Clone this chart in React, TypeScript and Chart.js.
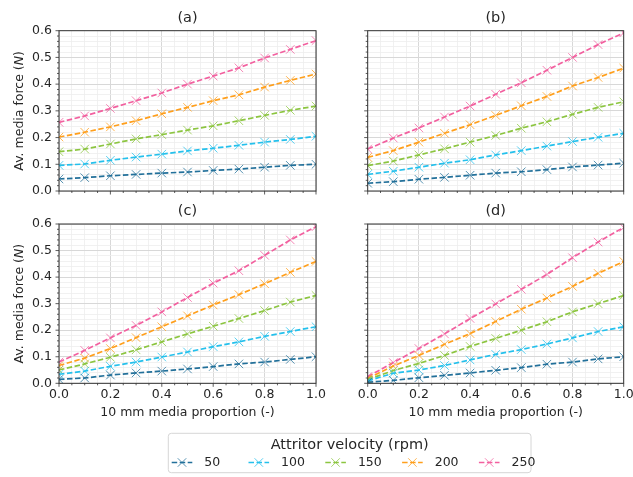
import React, { useEffect, useRef } from 'react';
import { Chart, registerables } from 'chart.js';
Chart.register(...registerables);

const FONT = '"DejaVu Sans", sans-serif';
const TEXT = '#262626';
const W = 633;
const H = 477;

const proportion = [0, 0.1, 0.2, 0.3, 0.4, 0.5, 0.6, 0.7, 0.8, 0.9, 1.0];
const velocities = ['50', '100', '150', '200', '250'];
const seriesColors = ['#22709a', '#24c0ec', '#8cc540', '#ff9f1c', '#f2609f'];

const xTickLabels = ['0.0', '0.2', '0.4', '0.6', '0.8', '1.0'];
const yTickLabels = ['0.0', '0.1', '0.2', '0.3', '0.4', '0.5', '0.6'];
const xMinorPerMajor = 4; // minor every 0.05
const yMinorPerMajor = 5; // minor every 0.02

const xTitle = '10 mm media proportion (-)';
const yTitleParts = ['Av. media force (', 'N', ')'];
const legendTitle = 'Attritor velocity (rpm)';

// Panel (a)
const a50 = [0.045, 0.050, 0.057, 0.062, 0.067, 0.071, 0.077, 0.082, 0.089, 0.096, 0.100];
const a100 = [0.096, 0.101, 0.115, 0.127, 0.138, 0.150, 0.160, 0.171, 0.183, 0.193, 0.205];
const a150 = [0.147, 0.157, 0.176, 0.195, 0.211, 0.228, 0.244, 0.263, 0.283, 0.302, 0.318];
const a200 = [0.202, 0.220, 0.240, 0.263, 0.289, 0.313, 0.338, 0.360, 0.389, 0.414, 0.438];
const a250 = [0.257, 0.281, 0.309, 0.338, 0.367, 0.400, 0.430, 0.461, 0.498, 0.530, 0.563];
// Panel (b)
const b50 = [0.029, 0.035, 0.044, 0.051, 0.059, 0.067, 0.072, 0.080, 0.090, 0.097, 0.104];
const b100 = [0.062, 0.074, 0.089, 0.104, 0.117, 0.135, 0.151, 0.168, 0.185, 0.201, 0.216];
const b150 = [0.095, 0.112, 0.135, 0.158, 0.183, 0.208, 0.235, 0.259, 0.287, 0.313, 0.334];
const b200 = [0.126, 0.151, 0.183, 0.216, 0.248, 0.283, 0.319, 0.354, 0.393, 0.425, 0.460];
const b250 = [0.157, 0.198, 0.236, 0.277, 0.318, 0.362, 0.405, 0.452, 0.500, 0.548, 0.592];
// Panel (c)
const c50 = [0.015, 0.020, 0.031, 0.039, 0.046, 0.054, 0.063, 0.073, 0.080, 0.090, 0.100];
const c100 = [0.034, 0.046, 0.064, 0.080, 0.099, 0.118, 0.138, 0.156, 0.177, 0.195, 0.213];
const c150 = [0.050, 0.073, 0.098, 0.126, 0.156, 0.186, 0.215, 0.244, 0.274, 0.306, 0.331];
const c200 = [0.067, 0.095, 0.131, 0.172, 0.213, 0.254, 0.295, 0.334, 0.375, 0.418, 0.459];
const c250 = [0.080, 0.124, 0.171, 0.218, 0.269, 0.323, 0.377, 0.424, 0.482, 0.540, 0.590];
// Panel (d)
const d50 = [0.004, 0.011, 0.021, 0.030, 0.039, 0.049, 0.059, 0.072, 0.080, 0.092, 0.100];
const d100 = [0.009, 0.038, 0.050, 0.067, 0.088, 0.109, 0.127, 0.148, 0.171, 0.195, 0.213];
const d150 = [0.014, 0.048, 0.075, 0.105, 0.139, 0.169, 0.200, 0.232, 0.269, 0.300, 0.331];
const d200 = [0.018, 0.065, 0.105, 0.147, 0.187, 0.233, 0.279, 0.321, 0.365, 0.414, 0.459];
const d250 = [0.025, 0.078, 0.131, 0.186, 0.244, 0.299, 0.354, 0.410, 0.473, 0.532, 0.587];

const panels = [
  { title: '(a)', series: [a50, a100, a150, a200, a250], area: { left: 59, right: 316, top: 30.7, bottom: 191 }, padLeft: 0, axisBottom: 205, yLabels: true, xLabels: false },
  { title: '(b)', series: [b50, b100, b150, b200, b250], area: { left: 367.7, right: 623.7, top: 30.7, bottom: 191 }, padLeft: 320, axisBottom: 205, yLabels: false, xLabels: false },
  { title: '(c)', series: [c50, c100, c150, c200, c250], area: { left: 59, right: 316, top: 224, bottom: 383.3 }, padLeft: 0, axisBottom: 425, yLabels: true, xLabels: true },
  { title: '(d)', series: [d50, d100, d150, d200, d250], area: { left: 367.7, right: 623.7, top: 224, bottom: 383.3 }, padLeft: 320, axisBottom: 425, yLabels: false, xLabels: true },
];

const xMax = Number(xTickLabels[xTickLabels.length - 1]);
const yMax = Number(yTickLabels[yTickLabels.length - 1]);
const xStep = Number(xTickLabels[1]) / xMinorPerMajor;
const yStep = Number(yTickLabels[1]) / yMinorPerMajor;
const xTickVals = Array.from({ length: Math.round(xMax / xStep) + 1 }, (_, i) => +(i * xStep).toFixed(4));
const yTickVals = Array.from({ length: Math.round(yMax / yStep) + 1 }, (_, i) => +(i * yStep).toFixed(4));
const isMajor = (v: number, step: number) => Math.abs(v / step - Math.round(v / step)) < 1e-6;
const xMajorStep = Number(xTickLabels[1]);
const yMajorStep = Number(yTickLabels[1]);

const MARKER_R = 6;

function alpha(hex: string, a: number) {
  const n = parseInt(hex.slice(1), 16);
  return `rgba(${(n >> 16) & 255},${(n >> 8) & 255},${n & 255},${a})`;
}

function makeDataset(label: string, color: string, values: number[]) {
  return {
    label,
    data: proportion.map((x, i) => ({ x, y: values[i] })),
    borderColor: color,
    backgroundColor: color,
    borderWidth: 1.7,
    borderDash: [5.5, 2.5],
    pointStyle: 'crossRot',
    pointRadius: MARKER_R,
    pointBorderWidth: 1,
    pointBorderColor: alpha(color, 0.75),
    pointHoverRadius: MARKER_R,
    tension: 0,
    clip: 0,
  };
}

const panelPlugin = {
  id: 'panelDecor',
  afterDatasetsDraw(chart: any, _args: any, opts: any) {
    const ctx = chart.ctx;
    const { left, right, top, bottom } = chart.chartArea;
    const xs = chart.scales.x;
    const ys = chart.scales.y;
    ctx.save();
    ctx.strokeStyle = '#333333';
    ctx.lineWidth = 1;
    ctx.strokeRect(left, top, right - left, bottom - top);
    ctx.beginPath();
    for (const v of yTickVals) {
      const y = ys.getPixelForValue(v);
      const len = isMajor(v, yMajorStep) ? 3.5 : 2;
      ctx.moveTo(left, y);
      ctx.lineTo(left - len, y);
    }
    for (const v of xTickVals) {
      const x = xs.getPixelForValue(v);
      const len = isMajor(v, xMajorStep) ? 3.5 : 2;
      ctx.moveTo(x, bottom);
      ctx.lineTo(x, bottom + len);
    }
    ctx.lineWidth = 0.8;
    ctx.stroke();
    ctx.fillStyle = TEXT;
    ctx.font = `14.5px ${FONT}`;
    ctx.textAlign = 'center';
    ctx.textBaseline = 'middle';
    ctx.fillText(opts.title, (left + right) / 2, top - 12.5);
    if (opts.yTitle) {
      ctx.translate(20, (top + bottom) / 2);
      ctx.rotate(-Math.PI / 2);
      const fonts = [`12.5px ${FONT}`, `italic 12.5px ${FONT}`, `12.5px ${FONT}`];
      const widths = yTitleParts.map((t, i) => {
        ctx.font = fonts[i];
        return ctx.measureText(t).width;
      });
      let x = -widths.reduce((s, w) => s + w, 0) / 2;
      ctx.textAlign = 'left';
      yTitleParts.forEach((t, i) => {
        ctx.font = fonts[i];
        ctx.fillText(t, x, 0);
        x += widths[i];
      });
    }
    ctx.restore();
  },
};

function panelConfig(p: any) {
  const gridColor = (step: number) => (c: any) =>
    c.tick && isMajor(c.tick.value, step) ? '#d8d8d8' : '#eeeeee';
  return {
    type: 'line',
    data: {
      datasets: velocities.map((v, i) => makeDataset(v, seriesColors[i], p.series[i])),
    },
    options: {
      responsive: false,
      animation: false,
      events: [],
      layout: {
        padding: {
          left: p.padLeft,
          right: W - p.area.right,
          top: p.area.top,
          bottom: H - p.axisBottom,
        },
      },
      scales: {
        x: {
          type: 'linear',
          min: 0,
          max: xMax,
          afterBuildTicks: (s: any) => {
            s.ticks = xTickVals.map((value) => ({ value }));
          },
          afterFit: (s: any) => {
            s.height = p.axisBottom - p.area.bottom;
            s.paddingLeft = 0;
            s.paddingRight = 0;
          },
          border: { display: false },
          grid: { drawTicks: false, color: gridColor(xMajorStep), lineWidth: (c: any) => (c.tick && isMajor(c.tick.value, xMajorStep) ? 1 : 0.8) },
          ticks: {
            display: p.xLabels,
            autoSkip: false,
            maxRotation: 0,
            padding: 4,
            color: TEXT,
            font: { family: FONT, size: 12.5 },
            callback: (v: number) => (isMajor(v, xMajorStep) ? xTickLabels[Math.round(v / xMajorStep)] : ''),
          },
          title: {
            display: p.xLabels,
            text: xTitle,
            color: TEXT,
            font: { family: FONT, size: 12.5 },
            padding: { top: 0, bottom: 5.2 },
          },
        },
        y: {
          type: 'linear',
          min: 0,
          max: yMax,
          afterBuildTicks: (s: any) => {
            s.ticks = yTickVals.map((value) => ({ value }));
          },
          afterFit: (s: any) => {
            s.width = p.area.left - p.padLeft;
            s.paddingTop = 0;
            s.paddingBottom = 0;
          },
          border: { display: false },
          grid: { drawTicks: false, color: gridColor(yMajorStep), lineWidth: (c: any) => (c.tick && isMajor(c.tick.value, yMajorStep) ? 1 : 0.8) },
          ticks: {
            display: p.yLabels,
            autoSkip: false,
            padding: 7,
            color: TEXT,
            font: { family: FONT, size: 12.5 },
            callback: (v: number) => (isMajor(v, yMajorStep) ? yTickLabels[Math.round(v / yMajorStep)] : ''),
          },
        },
      },
      plugins: {
        legend: { display: false },
        tooltip: { enabled: false },
        panelDecor: { title: p.title, yTitle: p.yLabels },
      },
    },
    plugins: [panelPlugin],
  };
}

const legendPlugin = {
  id: 'legendBox',
  afterDraw(chart: any) {
    const ctx = chart.ctx;
    const l = 168.3, t = 433.3, r = 531, b = 472.7;
    ctx.save();
    ctx.fillStyle = 'rgba(255,255,255,0.8)';
    ctx.strokeStyle = '#d6d6d6';
    ctx.lineWidth = 1;
    ctx.beginPath();
    (ctx as any).roundRect(l, t, r - l, b - t, 3);
    ctx.fill();
    ctx.stroke();
    ctx.fillStyle = TEXT;
    ctx.font = `14.5px ${FONT}`;
    ctx.textAlign = 'center';
    ctx.textBaseline = 'middle';
    ctx.fillText(legendTitle, (l + r) / 2, 445);
    const y = 462.5;
    chart.data.datasets.forEach((ds: any, i: number) => {
      const x0 = 171.7 + i * 76.8;
      const x1 = x0 + 20.6;
      ctx.strokeStyle = ds.borderColor;
      ctx.lineWidth = 1.7;
      ctx.setLineDash([5.5, 2.5]);
      ctx.beginPath();
      ctx.moveTo(x0, y);
      ctx.lineTo(x1, y);
      ctx.stroke();
      ctx.setLineDash([]);
      const cx = (x0 + x1) / 2;
      const rr = MARKER_R * Math.SQRT1_2;
      ctx.strokeStyle = ds.pointBorderColor;
      ctx.lineWidth = 1;
      ctx.beginPath();
      ctx.moveTo(cx - rr, y - rr);
      ctx.lineTo(cx + rr, y + rr);
      ctx.moveTo(cx + rr, y - rr);
      ctx.lineTo(cx - rr, y + rr);
      ctx.stroke();
      ctx.fillStyle = TEXT;
      ctx.font = `12.5px ${FONT}`;
      ctx.textAlign = 'left';
      ctx.fillText(ds.label, x1 + 12, y);
    });
    ctx.restore();
  },
};

function legendConfig() {
  return {
    type: 'line',
    data: {
      datasets: velocities.map((v, i) => ({ ...makeDataset(v, seriesColors[i], []), data: [] })),
    },
    options: {
      responsive: false,
      animation: false,
      events: [],
      scales: { x: { display: false, type: 'linear' }, y: { display: false } },
      plugins: { legend: { display: false }, tooltip: { enabled: false } },
    },
    plugins: [legendPlugin],
  };
}

function ChartCanvas({ make }: { make: () => any }) {
  const ref = useRef<HTMLCanvasElement>(null);
  useEffect(() => {
    const chart = new Chart(ref.current as HTMLCanvasElement, make());
    return () => chart.destroy();
  }, []);
  return (
    <canvas
      ref={ref}
      width={W}
      height={H}
      style={{ position: 'absolute', left: 0, top: 0, width: W, height: H }}
    />
  );
}

export default function App() {
  return (
    <div style={{ position: 'absolute', left: 0, top: 0, width: W, height: H, background: '#ffffff', overflow: 'hidden' }}>
      {panels.map((p) => (
        <ChartCanvas key={p.title} make={() => panelConfig(p)} />
      ))}
      <ChartCanvas make={legendConfig} />
    </div>
  );
}
